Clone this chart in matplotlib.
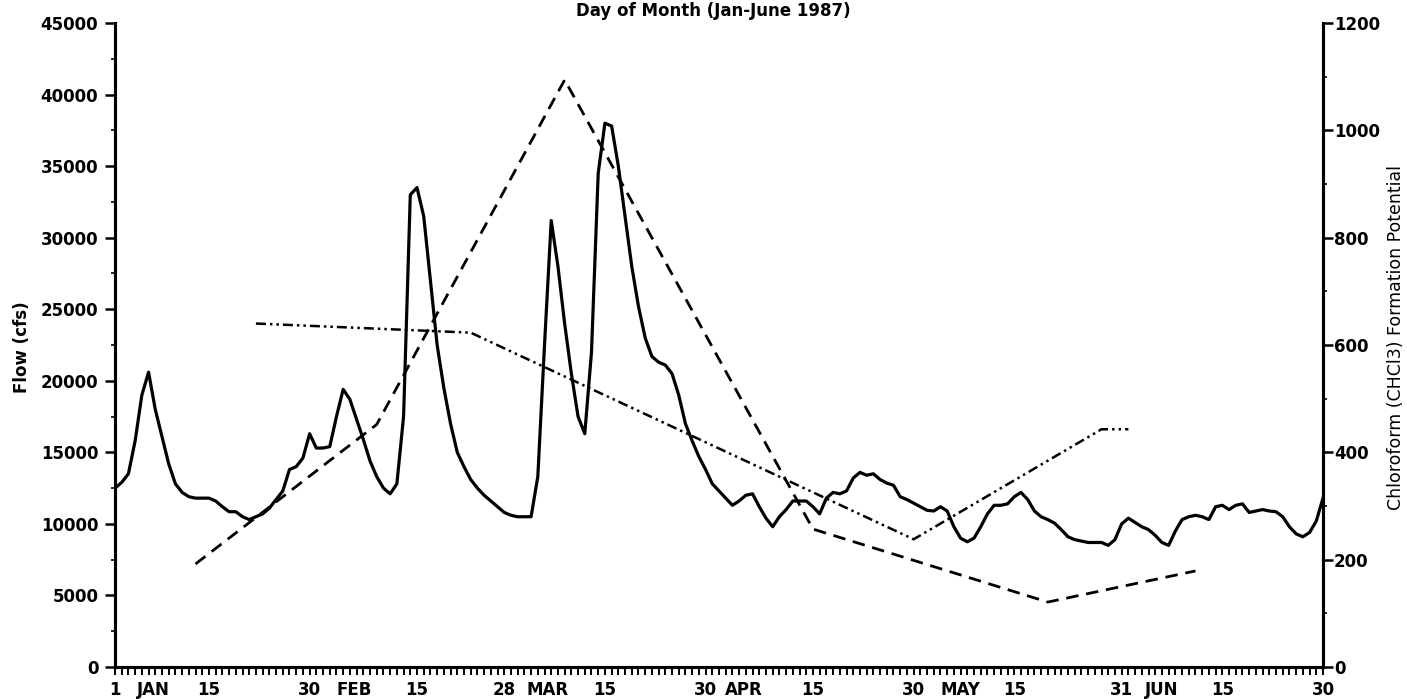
import numpy as np
import matplotlib
matplotlib.use("Agg")
import matplotlib.pyplot as plt
from matplotlib.ticker import MultipleLocator

# Daily mean flow, 1 Jan (day 1) through 30 June 1987 (day 181), cfs
flow_cfs = [
    12500, 12900, 13500, 15800, 19000, 20600, 18000, 16100, 14200, 12800,
    12200, 11900, 11800, 11800, 11800, 11600, 11200, 10850, 10850, 10500,
    10300, 10500, 10700, 11100, 11700, 12300, 13800, 14000, 14600, 16300,
    15300, 15300, 15400, 17500, 19400, 18700, 17300, 15900, 14400, 13300,
    12500, 12100, 12800, 17500, 33000, 33500, 31500, 27000, 22500, 19500,
    17000, 15000, 14000, 13100, 12500, 12000, 11600, 11200, 10800, 10600,
    10500, 10500, 10500, 13300, 22500, 31200, 28000, 24000, 20500, 17500,
    16300, 22000, 34500, 38000, 37800, 35000, 31500, 28000, 25200, 23000,
    21700, 21300, 21100, 20500, 19000, 17000, 15800, 14700, 13800, 12800,
    12300, 11800, 11300, 11600, 12000, 12100, 11200, 10400, 9800, 10500,
    11000, 11600, 11600, 11600, 11200, 10700, 11800, 12200, 12100, 12300,
    13200, 13600, 13400, 13500, 13100, 12850, 12700, 11900, 11700, 11450,
    11200, 10950, 10900, 11200, 10900, 9800, 9000, 8750, 9000, 9800,
    10700, 11300, 11300, 11400, 11900, 12200, 11700, 10900, 10500, 10300,
    10050, 9600, 9100, 8900, 8800, 8700, 8700, 8700, 8500, 8900,
    10000, 10400, 10100, 9800, 9600, 9200, 8700, 8500, 9500, 10300,
    10500, 10600, 10500, 10300, 11200, 11300, 11000, 11300, 11400, 10800,
    10900, 11000, 10900, 10850, 10500, 9800, 9300, 9100, 9400, 10200,
    11800,
]
flow_day = list(range(1, len(flow_cfs) + 1))

# Chloroform formation potential samples (right axis)
fp_a_day = [13, 40, 68, 105, 140, 162]
fp_a_val = [192, 452, 1094, 257, 121, 179]

fp_b_day = [22, 54, 120, 148, 152]
fp_b_val = [640, 623, 238, 443, 443]

# Axis labelling along the date axis
tick_days = [1, 15, 30, 46, 59, 74, 89, 105, 120, 135, 151, 166, 181]
tick_text = ["1", "15", "30", "15", "28", "15", "30", "15", "30", "15", "31", "15", "30"]
month_days = [6.7, 36.7, 65.4, 94.7, 127, 157]
month_text = ["JAN", "FEB", "MAR", "APR", "MAY", "JUN"]

W, H = 1407, 699
fig = plt.figure(figsize=(W / 100, H / 100), dpi=100)
ax = fig.add_axes([115 / W, 32 / H, (1323 - 115) / W, (667 - 23) / H])
ax2 = ax.twinx()

bold = dict(fontfamily="DejaVu Sans", fontweight="bold", fontsize=12)

ax.plot(flow_day, flow_cfs, color="black", lw=2.3, solid_joinstyle="round", zorder=3)
ax2.plot(fp_a_day, fp_a_val, color="black", lw=2.0, linestyle=(0, (4.5, 2.8)), zorder=3)
ax2.plot(fp_b_day, fp_b_val, color="black", lw=1.8,
         linestyle=(0, (4.0, 1.6, 1.0, 1.6, 1.0, 1.6)), zorder=3)

ax.set_xlim(1, 181)
ax.set_ylim(0, 45000)
ax2.set_ylim(0, 1200)

for a in (ax, ax2):
    a.spines["top"].set_visible(False)
    for s in ("left", "right", "bottom"):
        a.spines[s].set_linewidth(2.2)

ax.yaxis.set_major_locator(MultipleLocator(5000))
ax.yaxis.set_minor_locator(MultipleLocator(2500))
ax2.yaxis.set_major_locator(MultipleLocator(200))
ax2.yaxis.set_minor_locator(MultipleLocator(100))
ax.set_xticks(tick_days)
ax.set_xticklabels(tick_text)
ax.xaxis.set_minor_locator(MultipleLocator(1))

ax.tick_params(axis="y", which="major", direction="out", length=7, width=1.8, pad=5)
ax.tick_params(axis="y", which="minor", direction="out", length=3, width=1.2)
ax2.tick_params(axis="y", which="major", direction="out", length=7, width=1.8, pad=1)
ax2.tick_params(axis="y", which="minor", direction="out", length=3, width=1.2)
ax.tick_params(axis="x", which="both", direction="out", length=6, width=1.4, pad=4)

for lab in ax.get_yticklabels() + ax2.get_yticklabels() + ax.get_xticklabels():
    lab.set_fontfamily("DejaVu Sans")
    lab.set_fontweight("bold")
    lab.set_fontsize(12)

for d, m in zip(month_days, month_text):
    ax.text(d, -0.021, m, transform=ax.get_xaxis_transform(), ha="center", va="top",
            **bold)

fig.text(22 / W, 1 - 347 / H, "Flow (cfs)", rotation=90, ha="center", va="center",
         **bold)
fig.text(1396 / W, 1 - 337 / H, "Chloroform (CHCl3) Formation Potential", rotation=90,
         ha="center", va="center", fontfamily="DejaVu Sans", fontsize=12.5)

fig.text(713 / W, 1 - 11 / H, "Day of Month (Jan-June 1987)", ha="center", va="center",
         **bold)

fig.savefig("out.png", dpi=100)
